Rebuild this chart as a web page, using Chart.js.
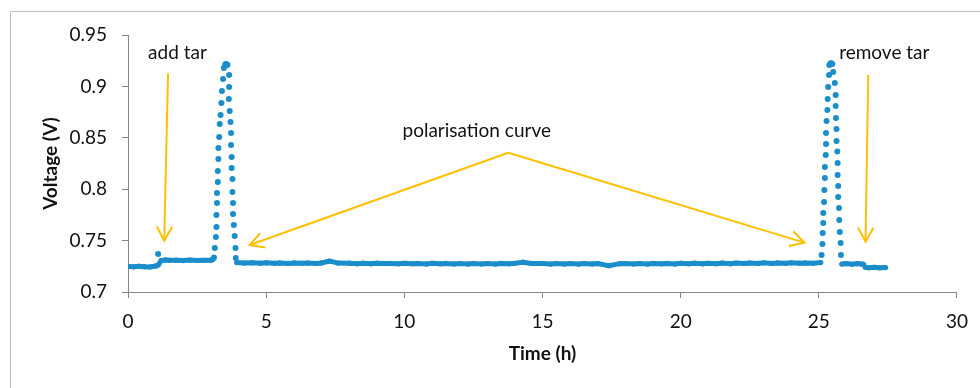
<!DOCTYPE html>
<html>
<head>
<meta charset="utf-8">
<script src="https://cdn.jsdelivr.net/npm/chart.js@4/dist/chart.umd.min.js"></script>
<style>
  html, body { margin: 0; padding: 0; background: #fff; }
  #wrap { width: 980px; height: 388px; }
</style>
</head>
<body>
<div id="wrap"><canvas id="myChart" width="980" height="388"></canvas></div>
<script>
// tick labels
var xTickLabels = ['0', '5', '10', '15', '20', '25', '30'];
var yTickLabels = ['0.7', '0.75', '0.8', '0.85', '0.9', '0.95'];

// baseline before tar is added
var preTarTime = [0, 0.2, 0.4, 0.6, 0.8, 1.0, 1.05];
var preTarVolt = [0.7248, 0.7245, 0.7250, 0.7246, 0.7244, 0.7252, 0.7258];

// with tar, before first polarisation curve
var tarTime = [1.1, 1.2, 1.35, 1.5, 1.75, 2.0, 2.25, 2.5, 2.75, 3.0, 3.08];
var tarVolt = [0.7265, 0.7305, 0.7312, 0.7308, 0.7310, 0.7306, 0.7311, 0.7307, 0.7309, 0.7310, 0.7318];

// first polarisation curve (single points)
var peak1Time = [1.09, 3.11, 3.14, 3.18, 3.20, 3.20, 3.22, 3.22, 3.25, 3.25, 3.27, 3.27, 3.30, 3.32, 3.35, 3.38, 3.40, 3.44, 3.47, 3.52, 3.54, 3.57,
  3.60, 3.66, 3.66, 3.65, 3.68, 3.71, 3.73, 3.73, 3.75, 3.75, 3.78, 3.78, 3.80, 3.80, 3.83, 3.86, 3.89, 3.90];
var peak1Volt = [0.7370, 0.7335, 0.7428, 0.7535, 0.7632, 0.7749, 0.7866, 0.7963, 0.8070, 0.8177, 0.8294, 0.8401, 0.8508, 0.8634, 0.8722, 0.8839, 0.8955, 0.9072, 0.9179, 0.9210, 0.9218, 0.9215,
  0.9208, 0.9111, 0.8994, 0.8877, 0.8761, 0.8654, 0.8547, 0.8430, 0.8313, 0.8206, 0.8099, 0.7973, 0.7866, 0.7759, 0.7652, 0.7545, 0.7428, 0.7331];

// long steady run
var midTime = [3.93, 4.2, 4.5, 4.8, 5, 5.3, 5.5, 5.8, 6, 6.3, 6.5, 6.8, 7, 7.3, 7.6, 8, 8.3, 8.5, 8.8, 9, 9.3, 9.5, 9.8, 10, 10.3, 10.5, 10.8, 11, 11.3, 11.5, 11.8, 12, 12.3, 12.5, 12.8, 13, 13.3, 13.5, 13.8, 14, 14.3, 14.6,
  15, 15.3, 15.5, 15.8, 16, 16.3, 16.5, 16.8, 17, 17.4, 17.8, 18, 18.3, 18.5, 18.8, 19, 19.3, 19.5, 19.8, 20, 20.3, 20.5, 20.8, 21, 21.3, 21.5, 21.8, 22, 22.3, 22.5, 22.8, 23, 23.3, 23.5, 23.8, 24, 24.3, 24.5, 24.8, 25.07];
var midVolt = [0.7286, 0.7281, 0.7285, 0.7280, 0.7284, 0.7279, 0.7283, 0.7278, 0.7283, 0.7279, 0.7282, 0.7277, 0.7283, 0.7300, 0.7281, 0.7280, 0.7276, 0.7280, 0.7275, 0.7280, 0.7277, 0.7278, 0.7274, 0.7279, 0.7275, 0.7278, 0.7273, 0.7279, 0.7274, 0.7278, 0.7273, 0.7277, 0.7273, 0.7278, 0.7273, 0.7277, 0.7272, 0.7278, 0.7274, 0.7279, 0.7290, 0.7277,
  0.7277, 0.7272, 0.7277, 0.7273, 0.7277, 0.7272, 0.7277, 0.7273, 0.7276, 0.7256, 0.7276, 0.7277, 0.7273, 0.7277, 0.7272, 0.7278, 0.7274, 0.7278, 0.7273, 0.7279, 0.7275, 0.7280, 0.7274, 0.7279, 0.7276, 0.7281, 0.7276, 0.7282, 0.7277, 0.7282, 0.7278, 0.7284, 0.7278, 0.7283, 0.7279, 0.7284, 0.7280, 0.7283, 0.7279, 0.7286];

// second polarisation curve (single points)
var peak2Time = [25.10, 25.13, 25.14, 25.16, 25.16, 25.19, 25.20, 25.22, 25.22, 25.25, 25.26, 25.26, 25.28, 25.31, 25.32, 25.34, 25.37, 25.38, 25.42, 25.45,
  25.49, 25.52, 25.58, 25.61, 25.61, 25.62, 25.64, 25.64, 25.67, 25.68, 25.68, 25.70, 25.70, 25.73, 25.74, 25.76, 25.79, 25.80];
var peak2Volt = [0.7360, 0.7467, 0.7574, 0.7671, 0.7768, 0.7875, 0.7992, 0.8109, 0.8216, 0.8333, 0.8440, 0.8547, 0.8664, 0.8770, 0.8877, 0.8994, 0.9111, 0.9208, 0.9222, 0.9225,
  0.9218, 0.9140, 0.9033, 0.8916, 0.8809, 0.8693, 0.8586, 0.8469, 0.8366, 0.8255, 0.8138, 0.8031, 0.7924, 0.7817, 0.7700, 0.7584, 0.7477, 0.7360];

// after second curve, then tar removed
var postTime = [25.83, 26.0, 26.2, 26.4, 26.55, 26.62];
var postVolt = [0.7272, 0.7276, 0.7271, 0.7276, 0.7272, 0.7270];
var removedTime = [26.68, 26.8, 27.0, 27.2, 27.42];
var removedVolt = [0.7240, 0.7236, 0.7240, 0.7235, 0.7238];

// annotations (data units)
var labelText = ['add tar', 'remove tar', 'polarisation curve'];
var labelTime = [1.79, 27.37, 12.62];
var labelVolt = [0.9325, 0.9325, 0.8566];
var arrowFromTime = [1.45, 26.79, 13.76, 13.76];
var arrowFromVolt = [0.9127, 0.9110, 0.8355, 0.8355];
var arrowToTime = [1.31, 26.69, 4.40, 24.48];
var arrowToVolt = [0.7499, 0.7490, 0.7457, 0.7480];

var blue = '#1a8dca';
var gold = '#ffc000';
var axisGrey = '#868686';
var textCol = '#111';

function toPoints(ts, vs) {
  return ts.map(function (t, i) { return { x: t, y: vs[i] }; });
}

function bandSet(ts, vs) {
  return { data: toPoints(ts, vs), showLine: true, borderColor: blue, backgroundColor: blue, borderWidth: 5, pointRadius: 2.6, pointBorderWidth: 0, tension: 0 };
}

function dotSet(ts, vs) {
  return { data: toPoints(ts, vs), showLine: false, backgroundColor: blue, borderWidth: 0, pointRadius: 3 };
}

var frame = {
  id: 'frame',
  beforeDraw: function (chart) {
    var ctx = chart.ctx;
    ctx.save();
    ctx.fillStyle = '#fff';
    ctx.fillRect(0, 0, chart.width, chart.height);
    ctx.strokeStyle = '#bfbfbf';
    ctx.lineWidth = 1;
    ctx.beginPath();
    ctx.moveTo(10.5, chart.height);
    ctx.lineTo(10.5, 11.5);
    ctx.lineTo(chart.width, 11.5);
    ctx.stroke();
    ctx.restore();
  }
};

var notes = {
  id: 'notes',
  afterDraw: function (chart) {
    var ctx = chart.ctx;
    var xs = chart.scales.x, ys = chart.scales.y;
    ctx.save();
    ctx.strokeStyle = gold;
    ctx.lineWidth = 2;
    for (var i = 0; i < arrowFromTime.length; i++) {
      var x0 = xs.getPixelForValue(arrowFromTime[i]), y0 = ys.getPixelForValue(arrowFromVolt[i]);
      var x1 = xs.getPixelForValue(arrowToTime[i]), y1 = ys.getPixelForValue(arrowToVolt[i]);
      var ang = Math.atan2(y1 - y0, x1 - x0);
      ctx.beginPath();
      ctx.moveTo(x0, y0);
      ctx.lineTo(x1, y1);
      ctx.stroke();
      ctx.beginPath();
      ctx.moveTo(x1 - 16 * Math.cos(ang - 0.5), y1 - 16 * Math.sin(ang - 0.5));
      ctx.lineTo(x1, y1);
      ctx.lineTo(x1 - 16 * Math.cos(ang + 0.5), y1 - 16 * Math.sin(ang + 0.5));
      ctx.stroke();
    }
    ctx.fillStyle = textCol;
    ctx.font = '19px Lato';
    ctx.textAlign = 'center';
    ctx.textBaseline = 'middle';
    for (var j = 0; j < labelText.length; j++) {
      ctx.fillText(labelText[j], xs.getPixelForValue(labelTime[j]), ys.getPixelForValue(labelVolt[j]));
    }
    ctx.restore();
  }
};

Chart.defaults.font.family = 'Lato';
Chart.defaults.font.size = 19;
Chart.defaults.color = textCol;

var ctx = document.getElementById('myChart');
var chart = new Chart(ctx, {
  type: 'scatter',
  data: {
    datasets: [
      bandSet(preTarTime, preTarVolt),
      bandSet(tarTime, tarVolt),
      bandSet(midTime, midVolt),
      bandSet(postTime, postVolt),
      bandSet(removedTime, removedVolt),
      dotSet(peak1Time, peak1Volt),
      dotSet(peak2Time, peak2Volt)
    ]
  },
  options: {
    responsive: false,
    animation: false,
    layout: { padding: { left: 35, top: 35, right: 21, bottom: 20 } },
    plugins: { legend: { display: false }, tooltip: { enabled: false } },
    scales: {
      x: {
        type: 'linear',
        min: 0,
        max: 30,
        afterFit: function (s) { s.height = 76; },
        border: { display: true, color: axisGrey, width: 1 },
        grid: { drawOnChartArea: false, drawTicks: true, tickLength: 6, color: axisGrey },
        ticks: {
          stepSize: 5,
          padding: 12,
          maxRotation: 0,
          callback: function (v, i) { return xTickLabels[i]; }
        },
        title: { display: true, text: 'Time (h)', font: { weight: 'bold', size: 19 }, padding: { top: 4, bottom: 3 } }
      },
      y: {
        type: 'linear',
        min: 0.7,
        max: 0.95,
        afterFit: function (s) { s.width = 93; },
        border: { display: true, color: axisGrey, width: 1 },
        grid: { drawOnChartArea: false, drawTicks: true, tickLength: 6, color: axisGrey },
        ticks: {
          stepSize: 0.05,
          padding: 15,
          callback: function (v, i) { return yTickLabels[i]; }
        },
        title: { display: true, text: 'Voltage (V)', font: { weight: 'bold', size: 19 }, padding: { top: 4, bottom: 4 } }
      }
    }
  },
  plugins: [frame, notes]
});
</script>
</body>
</html>
